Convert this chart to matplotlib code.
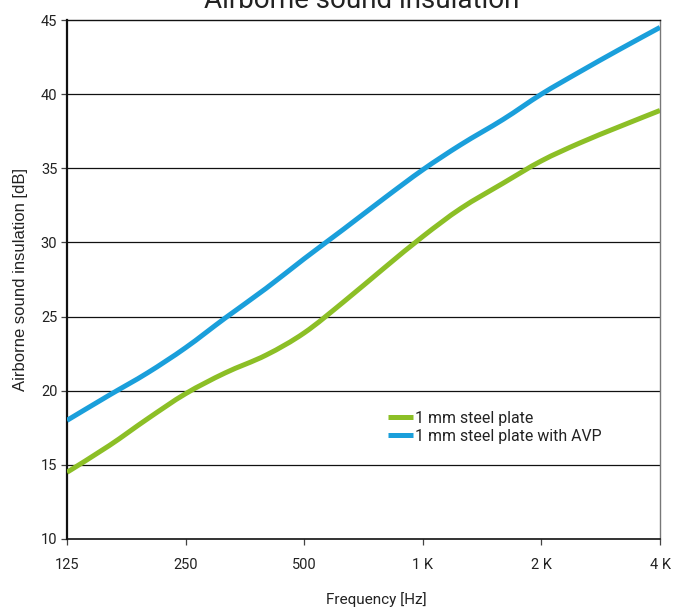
import matplotlib
matplotlib.use("Agg")
import numpy as np
import matplotlib.pyplot as plt
from matplotlib.ticker import FixedLocator, FixedFormatter, NullLocator
from matplotlib.path import Path
from matplotlib.patches import PathPatch
from matplotlib.lines import Line2D

plt.rcParams['font.family'] = ['Roboto', 'DejaVu Sans']

freqs = [125, 160, 200, 250, 315, 400, 500, 630, 800, 1000, 1250, 1600, 2000, 2500, 3150, 4000]
steel = [14.5, 16.3, 18.1, 19.8, 21.2, 22.4, 23.9, 26.0, 28.3, 30.4, 32.3, 34.0, 35.5, 36.7, 37.8, 38.9]
steel_avp = [18.0, 19.7, 21.2, 22.9, 24.9, 26.9, 28.9, 30.9, 33.0, 34.9, 36.6, 38.3, 40.0, 41.5, 43.0, 44.5]
xtick_vals = [125, 250, 500, 1000, 2000, 4000]
xtick_labels = ["125", "250", "500", "1 K", "2 K", "4 K"]
ytick_vals = [10, 15, 20, 25, 30, 35, 40, 45]
labels = ["1 mm steel plate", "1 mm steel plate with AVP"]

green = "#8cbf26"
blue = "#1a9fdb"
txt = "#222222"


def smooth_path(xs, ys):
    """Smoothed (Catmull-Rom as cubic Bezier) path through the data points,
    built in log-frequency space so it renders smoothly on the log axis."""
    lx = np.log10(np.asarray(xs, float))
    y = np.asarray(ys, float)
    n = len(lx)
    verts = [(xs[0], ys[0])]
    codes = [Path.MOVETO]
    for i in range(n - 1):
        i0 = max(i - 1, 0)
        i3 = min(i + 2, n - 1)
        c1x = lx[i] + (lx[i + 1] - lx[i0]) / 6
        c1y = y[i] + (y[i + 1] - y[i0]) / 6
        c2x = lx[i + 1] - (lx[i3] - lx[i]) / 6
        c2y = y[i + 1] - (y[i3] - y[i]) / 6
        verts += [(10 ** c1x, c1y), (10 ** c2x, c2y), (xs[i + 1], ys[i + 1])]
        codes += [Path.CURVE4] * 3
    return Path(verts, codes)


fig = plt.figure(figsize=(6.73, 6.09), dpi=100)
ax = fig.add_axes([67/673, 70/609, 593/673, 519/609])

ax.set_xscale('log')
ax.set_xlim(125, 4000)
ax.set_ylim(10, 45)

for series, col in [(steel, green), (steel_avp, blue)]:
    ax.add_patch(PathPatch(smooth_path(freqs, series), facecolor='none', edgecolor=col,
                           lw=3.6, capstyle='butt', joinstyle='round', zorder=3))

ax.xaxis.set_major_locator(FixedLocator(xtick_vals))
ax.xaxis.set_major_formatter(FixedFormatter(xtick_labels))
ax.xaxis.set_minor_locator(NullLocator())
ax.set_yticks(ytick_vals)

for y in ytick_vals[1:-1]:
    ax.axhline(y, color='#111111', lw=0.9, zorder=1)

for s in ['left', 'bottom', 'top']:
    ax.spines[s].set_color('#111111')
ax.spines['left'].set_linewidth(1.6)
ax.spines['bottom'].set_linewidth(1.2)
ax.spines['top'].set_linewidth(1.0)
ax.spines['right'].set_color('#777777')
ax.spines['right'].set_linewidth(1.0)

ax.tick_params(axis='both', direction='out', length=4, width=0.9, colors='#444444',
               labelcolor=txt, labelsize=10.5)
ax.tick_params(axis='x', pad=10)
ax.tick_params(axis='y', pad=3)

ax.set_ylabel("Airborne sound insulation [dB]", fontsize=12, color=txt,
              family=['Liberation Sans', 'DejaVu Sans'])
ax.yaxis.set_label_coords(-(67-28)/593, 0.5)
ax.set_xlabel("Frequency [Hz]", fontsize=11, color=txt)
ax.xaxis.set_label_coords((376-67)/593, -(592-539)/519)

fig.text(362/673, 1 - 8/609, "Airborne sound insulation", fontsize=20, color=txt,
         ha='center', va='baseline')

handles = [Line2D([], [], color=green, lw=3.6, solid_capstyle='butt'),
           Line2D([], [], color=blue, lw=3.6, solid_capstyle='butt')]
leg = ax.legend(handles, labels, loc='lower left',
                bbox_to_anchor=((388-67)/593, (539-444)/519),
                frameon=False, fontsize=11.4, handlelength=1.55, handletextpad=0.15,
                labelspacing=0.2, borderpad=0, borderaxespad=0)
for t in leg.get_texts():
    t.set_color(txt)

fig.savefig("out.png", dpi=100)
